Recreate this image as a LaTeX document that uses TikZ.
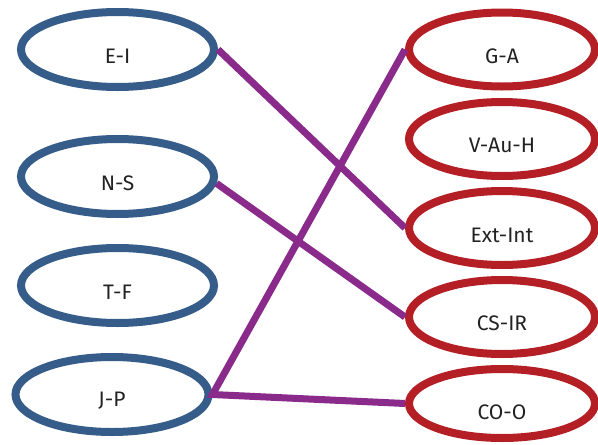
\documentclass[tikz,border=0pt]{standalone}
\usepackage{fontspec}
\setmainfont{Fira Sans}
\usetikzlibrary{shapes.geometric}
\definecolor{lblue}{HTML}{365D8A}
\definecolor{rred}{HTML}{B41F26}
\definecolor{lpurple}{HTML}{8A2A8B}
\definecolor{txtgray}{HTML}{222222}
\tikzset{
  lell/.style={ellipse, draw=lblue, line width=8pt, minimum width=193pt, minimum height=75pt, inner sep=0pt},
  rell/.style={ellipse, draw=rred, line width=8pt, minimum width=186pt, minimum height=74pt, inner sep=0pt},
  lab/.style={text=txtgray, font=\fontsize{21}{24}\selectfont, inner sep=0pt},
  conn/.style={draw=lpurple, line width=7pt, line cap=butt, line join=miter}
}
\begin{document}
\begin{tikzpicture}[x=1pt,y=-1pt]
\useasboundingbox (0,0) rectangle (598,445);
% left
\node[lell] (ei) at (117.5,49.5) {};
\node[lell] (ns) at (117.5,176.5) {};
\node[lell] (tf) at (117.5,285.5) {};
\node[lell] (jp) at (112,394.5) {};
% right
\node[rell] (ga) at (502,49.5) {};
\node[rell] (vauh) at (502,139) {};
\node[rell] (extint) at (502,228) {};
\node[rell] (csir) at (502,317) {};
\node[rell, minimum height=69pt] (coo) at (502,403.5) {};
% labels
\node[lab] (eit) at ([yshift=-6.5pt]ei.center) {E-I};
\node[lab] (nst) at ([yshift=-6.5pt]ns.center) {N-S};
\node[lab] (tft) at ([yshift=-6.5pt]tf.center) {T-F};
\node[lab] (jpt) at ([yshift=-6.5pt]jp.center) {J-P};
\node[lab] (gat) at ([yshift=-7pt]ga.center) {G-A};
\node[lab] (vauht) at ([yshift=-6.5pt]vauh.center) {V-Au-H};
\node[lab] (extintt) at ([yshift=-7pt]extint.center) {Ext-Int};
\node[lab] (csirt) at ([yshift=-6.5pt]csir.center) {CS-IR};
\node[lab] (coot) at ([yshift=-9pt]coo.center) {CO-O};
% connectors
\draw[conn] (ei.east) -- (extint.west);
\draw[conn] (ns.-4) -- (csir.west);
\draw[conn] (ga.west) -- (jp.east) -- (coo.west);
\end{tikzpicture}
\end{document}
